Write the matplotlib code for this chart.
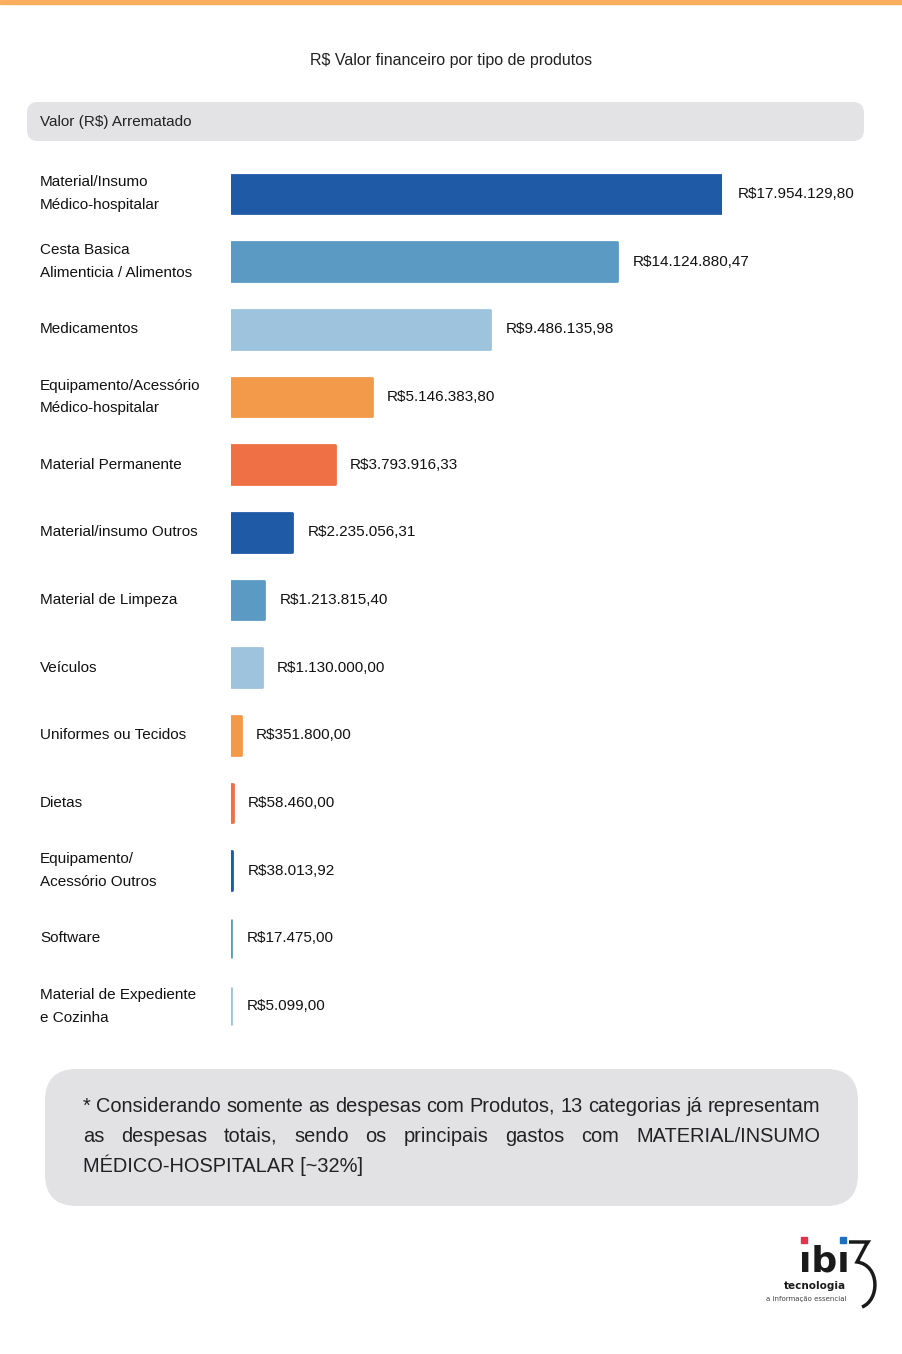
import matplotlib.pyplot as plt
import matplotlib.transforms as mtransforms
from matplotlib.patches import FancyBboxPatch, Rectangle, PathPatch
from matplotlib.path import Path

# dados
categorias = [
    "Material/Insumo\nMédico-hospitalar",
    "Cesta Basica\nAlimenticia / Alimentos",
    "Medicamentos",
    "Equipamento/Acessório\nMédico-hospitalar",
    "Material Permanente",
    "Material/insumo Outros",
    "Material de Limpeza",
    "Veículos",
    "Uniformes ou Tecidos",
    "Dietas",
    "Equipamento/\nAcessório Outros",
    "Software",
    "Material de Expediente\ne Cozinha",
]
valores = [17954129.80, 14124880.47, 9486135.98, 5146383.80, 3793916.33,
           2235056.31, 1213815.40, 1130000.00, 351800.00, 58460.00,
           38013.92, 17475.00, 5099.00]
cores = ["#1F5AA6", "#5B9BC3", "#9DC3DD", "#F39A4A", "#EE7044"]

titulo = "R$ Valor financeiro por tipo de produtos"
cabecalho = "Valor (R$) Arrematado"
nota = ["* Considerando somente as despesas com Produtos, 13 categorias já representam",
        "as despesas totais, sendo os principais gastos com MATERIAL/INSUMO",
        "MÉDICO-HOSPITALAR [~32%]"]

FONTE = ["Liberation Sans", "DejaVu Sans"]
W, H = 902, 1354


def fx(x):
    return x / W


def fy(y):
    return 1 - y / H


def fmt(v):
    s = f"{v:,.2f}"
    s = s.replace(",", "X").replace(".", ",").replace("X", ".")
    return "R$" + s


fig = plt.figure(figsize=(W / 100, H / 100), dpi=100)
renderer = fig.canvas.get_renderer()

# faixa laranja no topo
fig.patches.append(Rectangle((0, fy(4)), 1, 4 / H, transform=fig.transFigure,
                             color="#FBAE5E", zorder=0))

fig.text(0.5, fy(60), titulo, ha="center", va="center", fontsize=11.5,
         family=FONTE, color="#222222")

# caixa cinza do cabeçalho
fig.patches.append(FancyBboxPatch((fx(27), fy(141)), fx(864) - fx(27), 39 / H,
                                  boxstyle="round,pad=0,rounding_size=0.012",
                                  transform=fig.transFigure, fc="#E3E3E5", ec="none",
                                  mutation_aspect=W / H))
fig.text(fx(40), fy(122), cabecalho, ha="left", va="center", fontsize=11,
         family=FONTE, color="#222222")

# barras
ax = fig.add_axes([fx(231), fy(1040), 491 / W, 880 / H])
n = len(valores)
pos = list(range(n))
bar_cores = [cores[i % len(cores)] for i in pos]
ax.barh(pos, valores, height=0.57, color=bar_cores, edgecolor=bar_cores,
        linewidth=2, joinstyle="round")
ax.set_xlim(0, max(valores))
ax.set_ylim(n - 0.5, -0.5)
ax.axis("off")

trans = mtransforms.blended_transform_factory(fig.transFigure, ax.transData)
for i, (cat, v) in enumerate(zip(categorias, valores)):
    ax.text(fx(40), i, cat, transform=trans, ha="left", va="center",
            fontsize=11, family=FONTE, color="#111111", linespacing=1.8)
    ax.annotate(fmt(v), (v, i), xytext=(11, 0), textcoords="offset points",
                ha="left", va="center", fontsize=11, family=FONTE,
                color="#111111", annotation_clip=False)

# caixa da nota
fig.patches.append(FancyBboxPatch((fx(45), fy(1206)), fx(858) - fx(45), 137 / H,
                                  boxstyle="round,pad=0,rounding_size=0.035",
                                  transform=fig.transFigure, fc="#E2E2E4", ec="none",
                                  mutation_aspect=W / H))

x0, x1 = 83, 820
# tamanho da fonte ajustado para a primeira linha ocupar a largura da caixa
t = fig.text(0, 0, nota[0], fontsize=10, family=FONTE)
fs = 10 * (x1 - x0) / t.get_window_extent(renderer).width
t.remove()

linhas_y = [1106, 1136, 1165]
for k, (linha, yy) in enumerate(zip(nota, linhas_y)):
    if k == len(nota) - 1:
        fig.text(fx(x0), fy(yy), linha, ha="left", va="center", fontsize=fs,
                 family=FONTE, color="#222222")
        continue
    palavras = linha.split(" ")
    txts = [fig.text(0, fy(yy), p, ha="left", va="center", fontsize=fs,
                     family=FONTE, color="#222222") for p in palavras]
    larg = [tt.get_window_extent(renderer).width for tt in txts]
    esp = ((x1 - x0) - sum(larg)) / (len(palavras) - 1)
    x = x0
    for tt, w in zip(txts, larg):
        tt.set_x(fx(x))
        x += w + esp

# logo
fig.text(fx(824), fy(1271), "\u0131b\u0131", ha="center", va="baseline",
         fontsize=26, fontweight="bold", family="DejaVu Sans", color="#1A1A1A")
fig.patches.append(Rectangle((fx(801), fy(1243)), 6 / W, 6 / H,
                             transform=fig.transFigure, color="#E5304F"))
fig.patches.append(Rectangle((fx(840), fy(1243)), 6 / W, 6 / H,
                             transform=fig.transFigure, color="#1E6FC0"))
fig.text(fx(846), fy(1286), "tecnologia", ha="right", va="center", fontsize=7.5,
         fontweight="bold", family="DejaVu Sans", color="#1A1A1A")
fig.text(fx(846), fy(1299), "a informação essencial", ha="right", va="center",
         fontsize=5, family="DejaVu Sans", color="#444444")
verts = [(fx(849), fy(1242)), (fx(868), fy(1242)), (fx(866), fy(1245)),
         (fx(857), fy(1262)), (fx(880), fy(1265)), (fx(880), fy(1300)),
         (fx(862), fy(1307))]
codes = [Path.MOVETO, Path.LINETO, Path.LINETO, Path.LINETO,
         Path.CURVE4, Path.CURVE4, Path.CURVE4]
fig.patches.append(PathPatch(Path(verts, codes), transform=fig.transFigure,
                             fc="none", ec="#1A1A1A", lw=2.5))

fig.savefig("out.png", dpi=100)
